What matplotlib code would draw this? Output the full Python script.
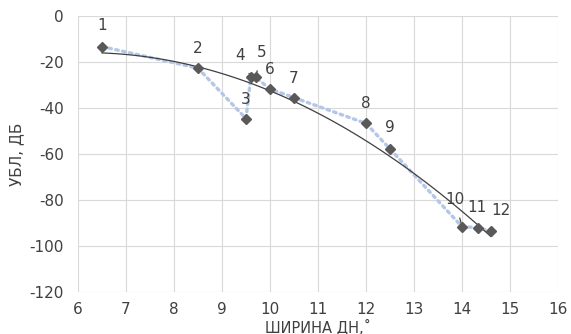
import numpy as np
import matplotlib.pyplot as plt

plt.rcParams['axes.unicode_minus'] = False

# values
width_deg = [6.5, 8.5, 9.5, 9.6, 9.7, 10.0, 10.5, 12.0, 12.5, 14.0, 14.33, 14.6]
sll_db = [-13.3, -22.7, -44.6, -26.4, -26.7, -31.7, -35.5, -46.7, -57.8, -91.6, -92.0, -93.6]
point_labels = ["1", "2", "3", "4", "5", "6", "7", "8", "9", "10", "11", "12"]
x_ticks = [6, 7, 8, 9, 10, 11, 12, 13, 14, 15, 16]
y_ticks = [0, -20, -40, -60, -80, -100, -120]

# label offsets in pixels (dx, dy) and whether a leader line is drawn
label_offsets = [(0, 21), (0, 20), (0, 19), (-11, 21), (6, 25), (0, 19),
                 (0, 19), (0, 20), (0, 21), (-7, 27), (-1, 20), (10, 21)]
leaders = [False, False, False, True, True, False,
           False, False, False, True, False, True]

txt_color = "#404040"
fs = 11

fig = plt.figure(figsize=(5.71, 3.34), dpi=100)
ax = fig.add_axes([78/571, 1-292/334, 480/571, 276/334])

ax.plot(width_deg, sll_db, color="#b4c7e7", lw=2.4, linestyle=(0, (0.8, 1.3)),
        dash_capstyle="round", zorder=2)

# polynomial trend line (degree 2) like the spreadsheet trendline
coef = np.polyfit(width_deg, sll_db, 2)
xt = np.linspace(min(width_deg), max(width_deg), 100)
ax.plot(xt, np.polyval(coef, xt), color="#404040", lw=0.9, zorder=3)

ax.plot(width_deg, sll_db, linestyle="none", marker="D", ms=5.2,
        color="#595959", zorder=4)

for x, y, lab, off, ld in zip(width_deg, sll_db, point_labels, label_offsets, leaders):
    if ld:
        ax.annotate(lab, (x, y), xytext=off, textcoords="offset pixels",
                    ha="center", va="center", fontsize=fs, color=txt_color,
                    arrowprops=dict(arrowstyle="-", color="#404040", lw=0.9,
                                    shrinkA=6, shrinkB=2))
    else:
        ax.annotate(lab, (x, y), xytext=off, textcoords="offset pixels",
                    ha="center", va="center", fontsize=fs, color=txt_color)

ax.set_xlim(6, 16)
ax.set_ylim(-120, 0)
ax.set_xticks(x_ticks)
ax.set_yticks(y_ticks)
ax.grid(True, color="#d9d9d9", lw=0.8)
ax.set_axisbelow(True)
for s in ax.spines.values():
    s.set_visible(False)
ax.tick_params(length=0, labelsize=fs, labelcolor=txt_color)
ax.tick_params(axis="y", pad=10)
ax.tick_params(axis="x", pad=7.5)

ax.set_xlabel("ШИРИНА ДН,˚", fontsize=10.5, color=txt_color, labelpad=0.5)
ax.set_ylabel("УБЛ, ДБ", fontsize=fs, color=txt_color, labelpad=4)

fig.savefig("out.png", dpi=100)
